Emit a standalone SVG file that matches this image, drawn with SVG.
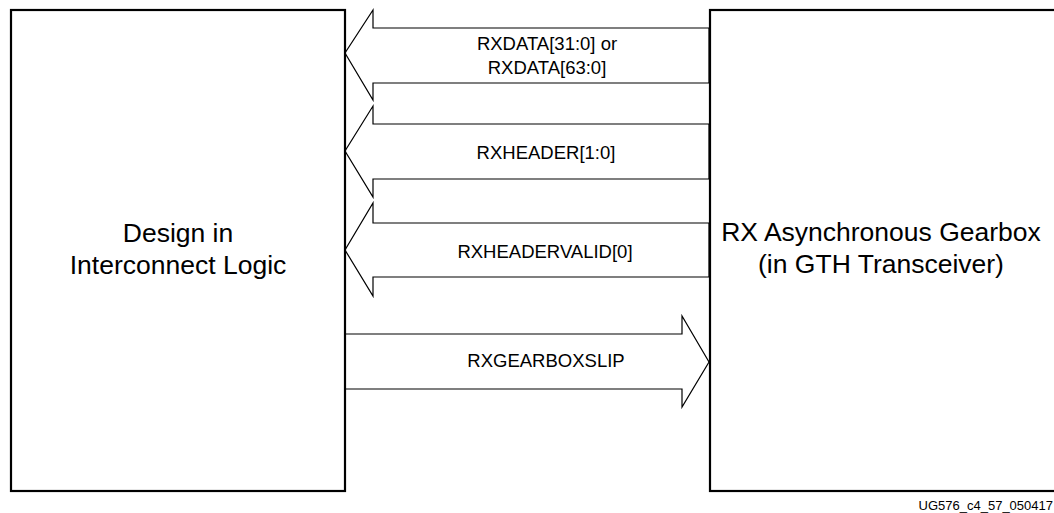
<svg xmlns="http://www.w3.org/2000/svg" width="1054" height="513" viewBox="0 0 1054 513">
<style>
.box{fill:#fff;stroke:#000;stroke-width:2.2}
.arr{fill:#fff;stroke:#000;stroke-width:1.2;stroke-linejoin:miter}
.big{font-family:"Liberation Sans",Arial,sans-serif;font-size:26.5px;fill:#000;text-anchor:middle}
.lbl{font-family:"Liberation Sans",Arial,sans-serif;font-size:18.5px;fill:#000;text-anchor:middle}
.foot{font-family:"Liberation Sans",Arial,sans-serif;font-size:13px;fill:#000;text-anchor:end}
</style>
<rect width="1054" height="513" fill="#fff"/>
<g id="connectors">
<g id="rxdata">
<polygon class="arr" points="709,28 373,28 373,10 345,53 373,100 373,83 709,83"/>
<text class="lbl" x="547" y="50">RXDATA[31:0] or</text>
<text class="lbl" x="547" y="74">RXDATA[63:0]</text>
</g>
<g id="rxheader">
<polygon class="arr" points="709,124 373,124 373,106 345,151 373,197 373,179 709,179"/>
<text class="lbl" x="546" y="159">RXHEADER[1:0]</text>
</g>
<g id="rxheadervalid">
<polygon class="arr" points="709,223 373,223 373,203 345,250 373,296 373,277 709,277"/>
<text class="lbl" x="545" y="258">RXHEADERVALID[0]</text>
</g>
<g id="rxgearboxslip">
<polygon class="arr" points="345,334 682,334 682,316 709,362 682,407 682,389 345,389"/>
<text class="lbl" x="546" y="367">RXGEARBOXSLIP</text>
</g>
</g>
<g id="design">
<rect class="box" x="11" y="10" width="334" height="481"/>
<text class="big" x="178" y="242">Design in</text>
<text class="big" x="178" y="274">Interconnect Logic</text>
</g>
<g id="gearbox">
<rect class="box" x="710" y="10" width="360" height="481"/>
<text class="big" x="881" y="241">RX Asynchronous Gearbox</text>
<text class="big" x="881" y="273">(in GTH Transceiver)</text>
</g>
<text class="foot" x="1053" y="510">UG576_c4_57_050417</text>
</svg>
